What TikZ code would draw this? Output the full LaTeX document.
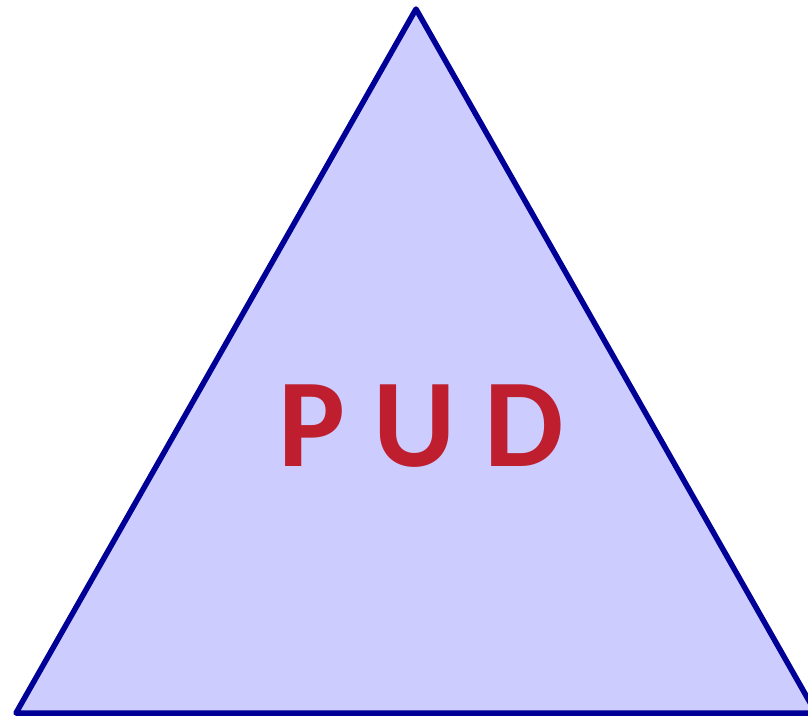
\documentclass[tikz,border=0pt]{standalone}
\usepackage{fontspec}
\setmainfont{Carlito}
\definecolor{edgeblue}{RGB}{0,0,150}
\definecolor{fillblue}{RGB}{204,204,255}
\definecolor{textred}{RGB}{190,30,45}
\begin{document}
\begin{tikzpicture}[x=1pt,y=-1pt,
  tri/.style={draw=edgeblue,fill=fillblue,line width=5.5pt,line join=round},
  label/.style={text=textred,font=\fontsize{126}{126}\selectfont\bfseries,inner sep=0pt,anchor=base}]
\useasboundingbox (0,0) rectangle (808,716);
\coordinate (apex) at (416,9);
\coordinate (bl) at (16,713);
\coordinate (br) at (816,713);
\draw[tri] (apex) -- (bl) -- (br) -- cycle;
\node[label] (pud) at (421,466) {P U D};
\end{tikzpicture}
\end{document}
